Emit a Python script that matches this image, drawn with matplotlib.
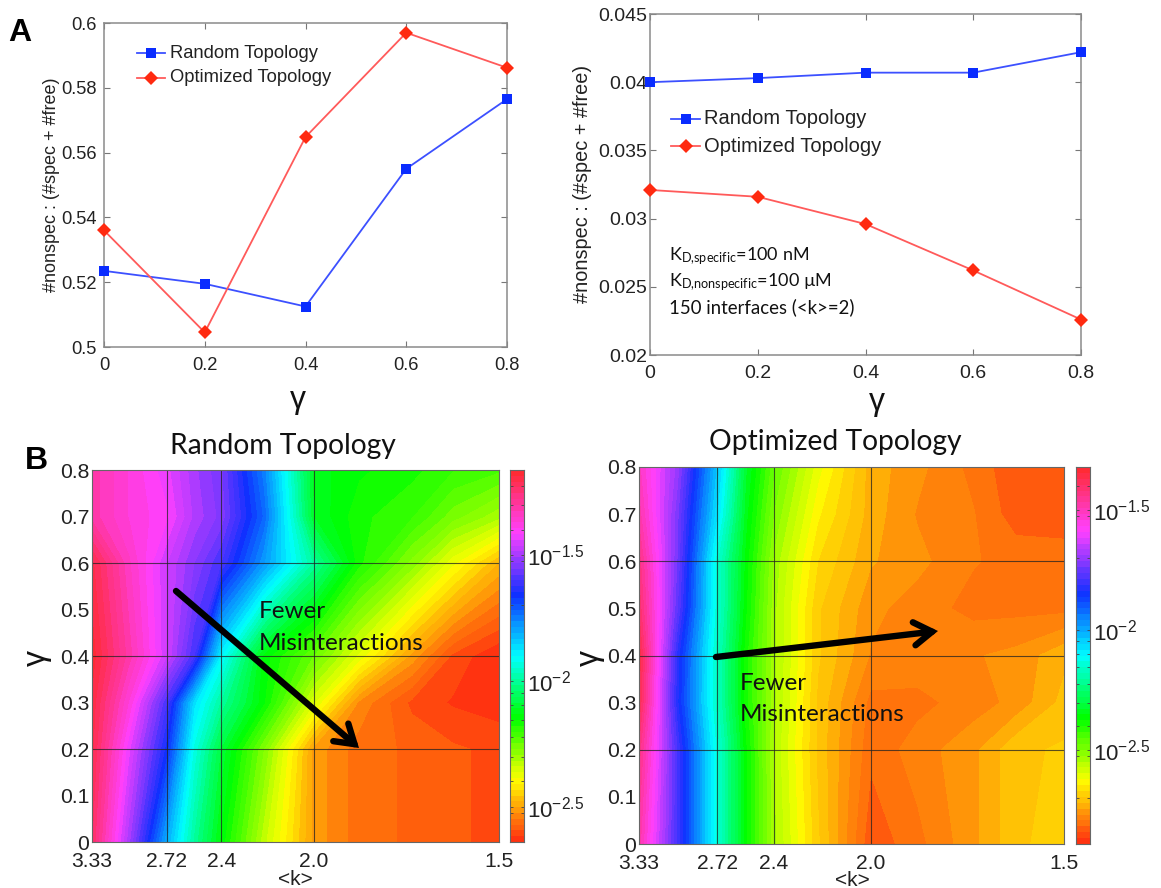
import numpy as np
import matplotlib
matplotlib.use("Agg")
import matplotlib.pyplot as plt
from matplotlib.colors import LinearSegmentedColormap

W, H = 1161, 888
SANS = "Liberation Sans"
CAL = "Lato"
plt.rcParams["font.family"] = SANS
plt.rcParams["mathtext.default"] = "regular"

gamma = [0, 0.2, 0.4, 0.6, 0.8]
left_random = [0.5235, 0.5195, 0.5125, 0.555, 0.5765]
left_opt = [0.536, 0.5045, 0.5648, 0.597, 0.5862]
right_random = [0.0400, 0.0403, 0.0407, 0.0407, 0.0422]
right_opt = [0.0321, 0.0316, 0.0296, 0.0262, 0.0226]

k_grid = [3.33, 3.0, 2.72, 2.55, 2.4, 2.2, 2.0, 1.85, 1.7, 1.6, 1.5]
k_ticks = [3.33, 2.72, 2.4, 2.0, 1.5]
k_tick_labels = ["3.33", "2.72", "2.4", "2.0", "1.5"]
k_lines = [2.72, 2.4, 2.0]
y_ticks = [0, 0.1, 0.2, 0.3, 0.4, 0.5, 0.6, 0.7, 0.8]
y_lines = [0.2, 0.4, 0.6]

# log10 of the misinteraction fraction, rows = gamma rows, columns = k_grid
random_gamma = [0, 0.2, 0.3, 0.4, 0.6, 0.7, 0.8]
random_log = [
    [-1.23, -1.50, -1.81, -2.00, -2.14, -2.33, -2.51, -2.56, -2.575, -2.59, -2.60],
    [-1.20, -1.43, -1.66, -1.93, -2.09, -2.27, -2.51, -2.56, -2.575, -2.59, -2.60],
    [-1.19, -1.37, -1.60, -1.87, -2.00, -2.15, -2.36, -2.53, -2.60, -2.62, -2.63],
    [-1.17, -1.31, -1.46, -1.60, -1.90, -2.14, -2.25, -2.37, -2.51, -2.60, -2.64],
    [-1.20, -1.34, -1.46, -1.53, -1.60, -1.78, -2.00, -2.17, -2.28, -2.38, -2.48],
    [-1.31, -1.37, -1.41, -1.49, -1.54, -1.72, -2.11, -2.17, -2.20, -2.26, -2.31],
    [-1.31, -1.37, -1.43, -1.50, -1.55, -1.75, -2.12, -2.15, -2.17, -2.20, -2.22],
]
opt_gamma = [0, 0.2, 0.3, 0.4, 0.5, 0.6, 0.7, 0.8]
opt_log = [
    [-1.48, -1.79, -2.14, -2.37, -2.54, -2.69, -2.835, -2.80, -2.75, -2.70, -2.68],
    [-1.43, -1.79, -2.14, -2.37, -2.55, -2.70, -2.81, -2.78, -2.75, -2.70, -2.69],
    [-1.37, -1.83, -2.17, -2.39, -2.54, -2.70, -2.80, -2.80, -2.78, -2.76, -2.71],
    [-1.35, -1.82, -2.17, -2.39, -2.54, -2.69, -2.77, -2.775, -2.77, -2.76, -2.725],
    [-1.40, -1.76, -2.15, -2.37, -2.54, -2.69, -2.76, -2.78, -2.80, -2.80, -2.80],
    [-1.43, -1.74, -2.15, -2.36, -2.53, -2.67, -2.74, -2.76, -2.79, -2.80, -2.80],
    [-1.48, -1.73, -2.08, -2.34, -2.50, -2.64, -2.73, -2.77, -2.79, -2.83, -2.835],
    [-1.51, -1.70, -2.04, -2.32, -2.47, -2.61, -2.73, -2.76, -2.80, -2.835, -2.84],
]
random_range = (-2.64, -1.16)
opt_range = (-2.89, -1.32)
cbar_ticks = [-2.5, -2.0, -1.5]
cbar_labels = ["$10^{-2.5}$", "$10^{-2}$", "$10^{-1.5}$"]

hue_map = LinearSegmentedColormap.from_list(
    "soft_hsv",
    [(0, "#ff2e10"), (1 / 6, "#ffff00"), (1 / 3, "#00ff00"), (0.5, "#00ffff"),
     (2 / 3, "#1030ff"), (5 / 6, "#ff40ff"), (1, "#ff2a30")], N=256)

fig = plt.figure(figsize=(W / 100, H / 100), dpi=100)


def axes_px(x0, y0, x1, y1):
    return fig.add_axes([x0 / W, 1 - y1 / H, (x1 - x0) / W, (y1 - y0) / H])


def text_px(x, y, s, **kw):
    kw.setdefault("va", "center")
    kw.setdefault("color", "#111111")
    return fig.text(x / W, 1 - y / H, s, **kw)


def arrow_px(p0, p1):
    fig.add_artist(matplotlib.patches.FancyArrowPatch(
        (p0[0] / W, 1 - p0[1] / H), (p1[0] / W, 1 - p1[1] / H),
        transform=fig.transFigure, arrowstyle="->,head_length=5,head_width=3.2",
        mutation_scale=2.6, lw=4.6, color="black", shrinkA=0, shrinkB=0,
        capstyle="round", joinstyle="miter"))


def line_panel(box, rnd, opt, yticks, ylabels, ylim, leg, fs, leg_fs, ylab_x, ylab_fs, ylab_y, gam_xy, ypad):
    ax = axes_px(*box)
    ax.plot(gamma, rnd, "-", color="#3c50ff", lw=1.3, zorder=3)
    ax.plot(gamma, rnd, "s", color="#0a2cff", ms=6.5, mew=0, clip_on=False, zorder=4)
    ax.plot(gamma, opt, "-", color="#ff5a5a", lw=1.3, zorder=3)
    ax.plot(gamma, opt, "D", color="#ff2a10", ms=7.2, mew=0, clip_on=False, zorder=4)
    ax.set_xlim(0, 0.8)
    ax.set_ylim(*ylim)
    ax.set_xticks(gamma, ["0", "0.2", "0.4", "0.6", "0.8"])
    ax.set_yticks(yticks, ylabels)
    ax.tick_params(direction="in", top=True, right=True, length=4, width=0.8,
                   color="#777777", labelsize=fs, labelcolor="#222222")
    ax.tick_params(axis="x", pad=7)
    ax.tick_params(axis="y", pad=ypad)
    for s in ax.spines.values():
        s.set_color("#8a8a8a")
        s.set_linewidth(1.1)
    x0, x1, y1, y2, xt = leg
    for y, c, lc, m, ms in ((y1, "#0a2cff", "#3c50ff", "s", 6.5), (y2, "#ff2a10", "#ff5a5a", "D", 7.2)):
        fig.add_artist(plt.Line2D([x0 / W, x1 / W], [1 - y / H] * 2, color=lc, lw=1.3))
        fig.add_artist(plt.Line2D([(x0 + x1) / 2 / W], [1 - y / H], marker=m, color=c, ms=ms, mew=0))
    text_px(xt, y1, "Random Topology", fontsize=leg_fs, color="#222222")
    text_px(xt, y2, "Optimized Topology", fontsize=leg_fs, color="#222222")
    text_px(ylab_x, ylab_y, "#nonspec : (#spec + #free)", rotation=90, ha="center",
            fontsize=ylab_fs, color="#222222")
    text_px(*gam_xy, "γ", ha="center", fontsize=23, color="#111111")
    return ax


def map_panel(box, cbox, grid, gam_grid, vrange, title, title_xy, gam_x, txt_xy, arrow, k_lab):
    ax = axes_px(*box)
    x = 1 / np.array(k_grid)
    y = np.array(gam_grid)
    levels = np.linspace(vrange[0], vrange[1], 65)
    ax.contourf(x, y, np.array(grid), levels=levels, cmap=hue_map, extend="both")
    for k in k_lines:
        ax.axvline(1 / k, color="#222222", lw=0.8, alpha=0.75)
    for g in y_lines:
        ax.axhline(g, color="#222222", lw=0.8, alpha=0.75)
    ax.set_xlim(x[0], x[-1])
    ax.set_ylim(0, 0.8)
    ax.set_xticks(1 / np.array(k_ticks), k_tick_labels)
    ax.set_yticks(y_ticks, ["0"] + [f"{v:.1f}" for v in y_ticks[1:]])
    ax.tick_params(length=0, labelsize=15.2, labelcolor="#222222", pad=2)
    ax.tick_params(axis="x", pad=7)
    for s in ax.spines.values():
        s.set_color("#666666")
        s.set_linewidth(0.8)
    cax = axes_px(*cbox)
    cy = np.linspace(vrange[0], vrange[1], 65)
    cax.contourf([0, 1], cy, np.column_stack([cy, cy]), levels=levels, cmap=hue_map, extend="both")
    cax.set_xticks([])
    cax.yaxis.tick_right()
    cax.set_ylim(*vrange)
    cax.set_yticks(cbar_ticks, cbar_labels)
    minors = np.log10(np.arange(2, 10)[:, None] * 10.0 ** np.array([-3, -2])).ravel()
    cax.set_yticks(minors[(minors > vrange[0]) & (minors < vrange[1])], minor=True)
    cax.tick_params(axis="y", which="both", direction="in", right=True, left=True, length=2,
                    width=0.6, color="#444444", labelsize=16, labelcolor="#222222", pad=2)
    for s in cax.spines.values():
        s.set_color("#666666")
        s.set_linewidth(0.8)
    text_px(*title_xy, title, ha="center", family=CAL, fontsize=20.3)
    text_px(gam_x, (box[1] + box[3]) / 2 + 2, "γ", ha="center", rotation=90, fontsize=23)
    text_px(k_lab[0], k_lab[1], "<k>", ha="center", fontsize=15, color="#222222")
    text_px(txt_xy[0], txt_xy[1], "Fewer", family=CAL, fontsize=17.5)
    text_px(txt_xy[0], txt_xy[1] + 31, "Misinteractions", family=CAL, fontsize=17.5)
    arrow_px(*arrow)


line_panel((104, 23, 507, 347), left_random, left_opt,
           [0.5, 0.52, 0.54, 0.56, 0.58, 0.6], ["0.5", "0.52", "0.54", "0.56", "0.58", "0.6"],
           (0.5, 0.6), (137, 165, 53, 78, 170), 13.2, 13.2, 52, 13.0, 185, (298, 400), 5)
line_panel((650, 14, 1081, 355), right_random, right_opt,
           [0.02, 0.025, 0.03, 0.035, 0.04, 0.045], ["0.02", "0.025", "0.03", "0.035", "0.04", "0.045"],
           (0.02, 0.045), (671, 700, 119, 146, 704), 14, 14.5, 583, 14.3, 184, (877, 402), 2)

map_panel((92, 470, 499, 842), (510, 470, 524, 842), random_log, random_gamma, random_range,
          "Random Topology", (283, 446), 37, (259, 612), ((176, 591), (359, 748)), (295, 879))
map_panel((639, 467, 1064, 844), (1076, 467, 1090, 844), opt_log, opt_gamma, opt_range,
          "Optimized Topology", (835, 442), 590, (740, 683), ((716, 657), (938, 631)), (852, 880))

text_px(8, 33, "A", family=SANS, fontweight="bold", fontsize=23, color="black")
text_px(25, 461, "B", family=SANS, fontweight="bold", fontsize=23, color="black")

text_px(669, 256, "K$_{D{,}specific}$=100 nM", family=CAL, fontsize=13)
text_px(669, 282, "K$_{D{,}nonspecific}$=100 µM", family=CAL, fontsize=13)
text_px(669, 307, "150 interfaces (<k>=2)", family=CAL, fontsize=13.4)

fig.savefig("out.png", dpi=100)
